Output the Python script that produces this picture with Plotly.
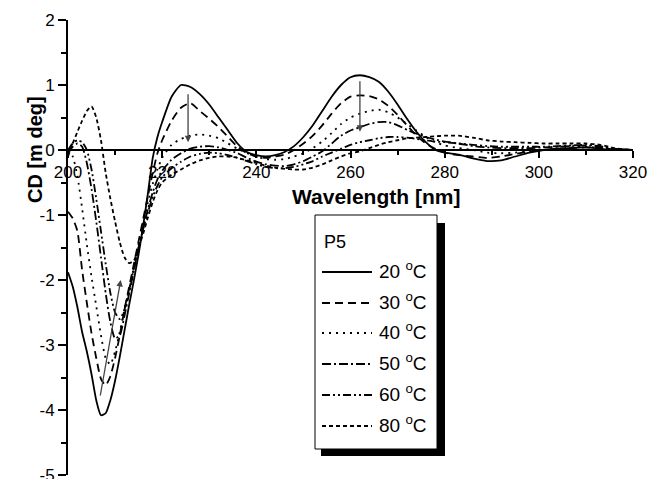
import plotly.graph_objects as go

wavelength = [200, 201, 202, 203, 204, 205, 206, 207, 208, 209, 210, 211, 212, 213, 214, 215,
              216, 217, 218, 219, 220, 222, 224, 226, 228, 230, 232, 234, 236, 238, 240, 242,
              244, 246, 248, 250, 252, 254, 256, 258, 260, 262, 264, 266, 268, 270, 272, 274,
              276, 278, 280, 283, 286, 289, 292, 295, 298, 301, 304, 307, 310, 313, 316, 320]

cd_20 = [-1.88, -2.1, -2.42, -2.8, -3.1, -3.45, -3.85, -4.08, -4.05, -3.85, -3.55, -3.18, -2.78, -2.38, -2.0, -1.6,
         -1.15, -0.65, -0.12, 0.2, 0.43, 0.82, 1.0, 0.97, 0.86, 0.7, 0.5, 0.3, 0.1, -0.03, -0.08, -0.1,
         -0.08, -0.03, 0.06, 0.2, 0.38, 0.6, 0.82, 1.0, 1.12, 1.15, 1.12, 1.05, 0.9, 0.7, 0.48, 0.28,
         0.12, 0.0, -0.04, -0.07, -0.13, -0.17, -0.16, -0.1, -0.04, 0.0, 0.02, 0.03, 0.04, 0.02, 0.0, 0.0]
cd_30 = [-0.95, -1.05, -1.25, -1.85, -2.35, -2.82, -3.2, -3.52, -3.62, -3.48, -3.2, -2.85, -2.45, -2.1, -1.75, -1.4,
         -1.05, -0.7, -0.35, -0.05, 0.15, 0.45, 0.65, 0.72, 0.6, 0.48, 0.35, 0.2, 0.05, -0.05, -0.1, -0.12,
         -0.1, -0.07, 0.0, 0.1, 0.22, 0.38, 0.56, 0.72, 0.82, 0.84, 0.83, 0.78, 0.68, 0.54, 0.38, 0.22,
         0.1, 0.02, -0.04, -0.08, -0.1, -0.12, -0.1, -0.06, -0.02, 0.0, 0.02, 0.03, 0.04, 0.03, 0.01, 0.0]
cd_40 = [0.0, -0.1, -0.4, -0.9, -1.45, -1.95, -2.4, -2.85, -3.2, -3.3, -3.1, -2.8, -2.45, -2.15, -1.8, -1.45,
         -1.12, -0.8, -0.52, -0.3, -0.12, 0.08, 0.17, 0.22, 0.24, 0.22, 0.18, 0.1, 0.02, -0.05, -0.1, -0.14,
         -0.15, -0.14, -0.1, -0.05, 0.03, 0.13, 0.26, 0.4, 0.5, 0.56, 0.6, 0.62, 0.58, 0.5, 0.4, 0.3,
         0.2, 0.12, 0.07, 0.03, 0.0, -0.04, -0.05, -0.04, -0.02, 0.0, 0.02, 0.04, 0.05, 0.03, 0.01, 0.0]
cd_50 = [-0.05, 0.05, 0.1, 0.05, -0.2, -0.6, -1.1, -1.65, -2.2, -2.65, -2.9, -2.85, -2.55, -2.2, -1.85, -1.5,
         -1.2, -0.9, -0.65, -0.45, -0.32, -0.15, -0.05, 0.02, 0.05, 0.06, 0.04, 0.0, -0.05, -0.12, -0.18, -0.22,
         -0.24, -0.25, -0.22, -0.17, -0.1, -0.02, 0.1, 0.22, 0.3, 0.35, 0.4, 0.43, 0.43, 0.38, 0.31, 0.25,
         0.2, 0.16, 0.13, 0.1, 0.06, 0.04, 0.03, 0.03, 0.03, 0.04, 0.05, 0.06, 0.07, 0.05, 0.02, 0.0]
cd_60 = [0.0, 0.1, 0.15, 0.12, 0.0, -0.3, -0.75, -1.25, -1.75, -2.2, -2.5, -2.6, -2.45, -2.15, -1.82, -1.5,
         -1.2, -0.95, -0.72, -0.55, -0.42, -0.28, -0.18, -0.1, -0.06, -0.04, -0.05, -0.08, -0.12, -0.17, -0.22, -0.26,
         -0.28, -0.28, -0.26, -0.22, -0.17, -0.1, -0.04, 0.02, 0.08, 0.12, 0.15, 0.18, 0.2, 0.2, 0.19, 0.17,
         0.15, 0.13, 0.12, 0.1, 0.08, 0.06, 0.05, 0.05, 0.05, 0.05, 0.06, 0.07, 0.08, 0.06, 0.02, 0.0]
cd_80 = [-0.1, 0.1, 0.28, 0.45, 0.6, 0.67, 0.5, 0.15, -0.35, -0.75, -1.1, -1.42, -1.65, -1.74, -1.7, -1.5,
         -1.28, -1.03, -0.8, -0.62, -0.5, -0.38, -0.3, -0.22, -0.16, -0.12, -0.1, -0.1, -0.12, -0.16, -0.2, -0.24,
         -0.27, -0.29, -0.3, -0.3, -0.27, -0.22, -0.16, -0.1, -0.05, -0.02, 0.03, 0.08, 0.12, 0.15, 0.18, 0.19,
         0.2, 0.21, 0.22, 0.22, 0.19, 0.15, 0.13, 0.12, 0.11, 0.1, 0.1, 0.1, 0.1, 0.08, 0.03, 0.0]

legend_title = "P5"
series_names = ["20 <sup>o</sup>C", "30 <sup>o</sup>C", "40 <sup>o</sup>C",
                "50 <sup>o</sup>C", "60 <sup>o</sup>C", "80 <sup>o</sup>C"]
series_values = [cd_20, cd_30, cd_40, cd_50, cd_60, cd_80]
dashes = ["solid", "8px,5px", "2px,5px", "9px,3px,2px,3px",
          "8px,3px,2px,3px,2px,3px", "4px,3px"]

x_tickvals = [200, 220, 240, 260, 280, 300, 320]
x_ticktext = ["200", "220", "240", "260", "280", "300", "320"]
y_tickvals = [-5, -4, -3, -2, -1, 0, 1, 2]
y_ticktext = ["-5", "-4", "-3", "-2", "-1", "0", "1", "2"]

FONT = "Arial, Liberation Sans, sans-serif"

# plot area target: x 68..633, y 20..475 in the window (body margin removed below)
L, T, R, B = 68, 20, 16, 4
W, H = 649, 479
PW, PH = 565, 455


def px_x(px):
    return (px - 68) / PW


def px_y(py):
    return (475 - py) / PH


fig = go.Figure()
for i, (name, vals, dsh) in enumerate(zip(series_names, series_values, dashes)):
    fig.add_trace(go.Scatter(
        x=wavelength, y=vals, mode="lines", name=name, showlegend=False,
        line=dict(color="black", width=1.8, dash=dsh, shape="spline", smoothing=0.6),
    ))

# arrows showing temperature trend
arrows = [((225.5, 0.88), (225.5, 0.12)), ((262.0, 1.08), (262.0, 0.28)),
          ((206.8, -3.8), (211.2, -2.0))]
for (tx, ty), (hx, hy) in arrows:
    fig.add_annotation(x=hx, y=hy, ax=tx, ay=ty, xref="x", yref="y", axref="x", ayref="y",
                       showarrow=True, arrowhead=2, arrowsize=1, arrowwidth=1.3,
                       arrowcolor="#444444", text="")

# axis titles
fig.add_annotation(x=265.5, y=-0.72, xref="x", yref="y", text="<b>Wavelength [nm]</b>",
                   showarrow=False, font=dict(family=FONT, size=21, color="black"))
fig.add_annotation(x=px_x(22), y=0, xref="paper", yref="y", text="<b>CD [m deg]</b>",
                   textangle=-90, showarrow=False, font=dict(family=FONT, size=20, color="black"))

# legend box with drop shadow
fig.add_shape(type="rect", xref="paper", yref="paper",
              x0=px_x(321), x1=px_x(445), y0=px_y(456), y1=px_y(223),
              fillcolor="black", line=dict(width=0), layer="above")
fig.add_shape(type="rect", xref="paper", yref="paper",
              x0=px_x(315), x1=px_x(437), y0=px_y(449), y1=px_y(215),
              fillcolor="white", line=dict(color="black", width=1), layer="above")
fig.add_annotation(x=px_x(322), y=px_y(242), xref="paper", yref="paper", text=legend_title,
                   xanchor="left", yanchor="middle", showarrow=False,
                   font=dict(family=FONT, size=18, color="black"))
row_y = [272, 303, 333, 364, 395, 426]
for name, dsh, ry in zip(series_names, dashes, row_y):
    fig.add_shape(type="line", xref="paper", yref="paper",
                  x0=px_x(322), x1=px_x(372), y0=px_y(ry), y1=px_y(ry),
                  line=dict(color="black", width=1.8, dash=dsh), layer="above")
    fig.add_annotation(x=px_x(377), y=px_y(ry - 2), xref="paper", yref="paper", text=name,
                       xanchor="left", yanchor="middle", showarrow=False,
                       font=dict(family=FONT, size=19, color="black"))

fig.update_layout(
    width=W, height=H,
    margin=dict(l=L, r=R, t=T, b=B),
    paper_bgcolor="white", plot_bgcolor="white",
    font=dict(family=FONT, size=17, color="black"),
    showlegend=False,
    xaxis=dict(
        range=[200, 320], anchor="free", position=5 / 7,
        showline=True, linecolor="black", linewidth=2,
        ticks="outside", ticklen=7, tickwidth=2, tickcolor="black",
        tickmode="array", tickvals=x_tickvals, ticktext=x_ticktext,
        showgrid=False, zeroline=False,
        minor=dict(dtick=10, tick0=200, ticklen=4, tickwidth=2, tickcolor="black", ticks="outside"),
        tickfont=dict(family=FONT, size=17), automargin=False,
    ),
    yaxis=dict(
        range=[-5, 2], showline=True, linecolor="black", linewidth=2,
        ticks="outside", ticklen=8, tickwidth=2, tickcolor="black",
        tickmode="array", tickvals=y_tickvals, ticktext=y_ticktext,
        showgrid=False, zeroline=False, ticklabeloverflow="allow",
        minor=dict(dtick=0.5, tick0=0, ticklen=5, tickwidth=2, tickcolor="black", ticks="outside"),
        tickfont=dict(family=FONT, size=17), automargin=False,
    ),
)

fig.write_html("out.html", config={"displayModeBar": False},
               post_script="document.body.style.margin='0px';")
